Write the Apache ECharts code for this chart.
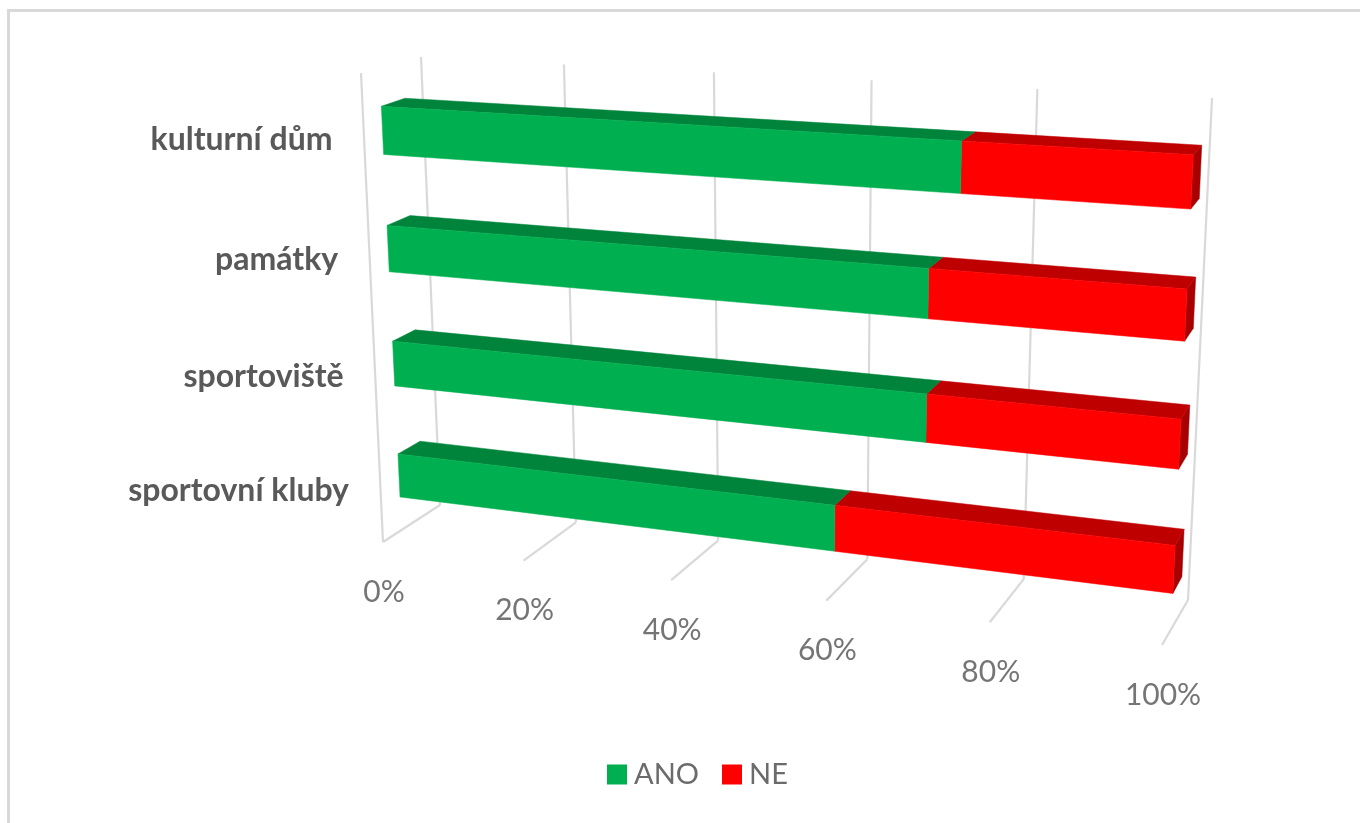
<!DOCTYPE html>
<html><head><meta charset="utf-8">
<style>html,body{margin:0;padding:0;background:#fff}#c{width:1360px;height:823px}</style>
<script src="https://cdn.jsdelivr.net/npm/echarts@6/dist/echarts.min.js"></script>
</head><body><div id="c"></div>
<script>
const categories = ['kulturní dům', 'památky', 'sportoviště', 'sportovní kluby'];
const ano = [74, 70.4, 70.4, 59.2];
const ne = [26, 29.6, 29.6, 40.8];
const tickValues = [0, 20, 40, 60, 80, 100];
const tickLabels = ['0%', '20%', '40%', '60%', '80%', '100%'];

// perspective layout: quads in order (u0,t0),(u1,t0),(u1,t1),(u0,t1)
const BAR_FRONT = [[382.5,130.5],[1192,182],[1174,569.5],[399,475.5]];
const BAR_BACK  = [[406,122],[1200.5,172],[1183,553],[421,462.5]];
const WALL_BACK = [[421,57],[1212,98],[1188,600],[440,505]];
const WALL_FRONT= [[361,73],[1186,115],[1162,645],[383,542]];

function homography(q){
  const [[x0,y0],[x1,y1],[x2,y2],[x3,y3]] = q;
  const dx1=x1-x2, dx2=x3-x2, sx=x0-x1+x2-x3;
  const dy1=y1-y2, dy2=y3-y2, sy=y0-y1+y2-y3;
  const den=dx1*dy2-dx2*dy1;
  const g=(sx*dy2-dx2*sy)/den, h=(dx1*sy-sx*dy1)/den;
  const a=x1-x0+g*x1, b=x3-x0+h*x3, c=x0;
  const d=y1-y0+g*y1, e=y3-y0+h*y3, f=y0;
  return (u,t)=>{const w=g*u+h*t+1;return [(a*u+b*t+c)/w,(d*u+e*t+f)/w];};
}
const front=homography(BAR_FRONT), back=homography(BAR_BACK), wall=homography(WALL_BACK), wallF=homography(WALL_FRONT);
const halfAt=t=>0.067-0.002*t;

function norm(params, api, v, i){
  const p=api.coord([v,i]), r=params.coordSys;
  return [(p[0]-r.x)/r.width,(p[1]-r.y)/r.height];
}
function poly(pts,fill){return {type:'polygon',shape:{points:pts},style:{fill:fill,stroke:fill,lineWidth:0.5},silent:true};}

function barRenderer(frontCol,topCol,sideCol){
  return function(params,api){
    const a=norm(params,api,api.value(0),api.value(2));
    const b=norm(params,api,api.value(1),api.value(2));
    const up=a[1]-halfAt(a[1]), dn=a[1]+halfAt(a[1]);
    const ch=[
      poly([front(a[0],up),front(b[0],up),back(b[0],up),back(a[0],up)],topCol),
      poly([front(a[0],up),front(b[0],up),front(b[0],dn),front(a[0],dn)],frontCol)
    ];
    if(b[0]>=0.999) ch.unshift(poly([front(b[0],up),back(b[0],up),back(b[0],dn),front(b[0],dn)],sideCol));
    return {type:'group',children:ch};
  };
}
function gridRenderer(params,api){
  const u=norm(params,api,api.value(0),0)[0];
  const L={stroke:'#d9d9d9',lineWidth:2.2,lineCap:'butt'};
  const ln=(a,b)=>({type:'line',shape:{x1:a[0],y1:a[1],x2:b[0],y2:b[1]},style:L,silent:true});
  const f=wallF(u,1);
  const ch=[ln(wall(u,0),wall(u,1)),ln(wall(u,1),f)];
  if(api.value(0)===0) ch.push(ln(wallF(u,0),f));
  ch.push({type:'text',silent:true,style:{text:tickLabels[params.dataIndex],x:f[0]+1,y:f[1]+50,align:'center',verticalAlign:'middle',
    font:'30px Lato, "Open Sans", sans-serif',fill:'#757575'}});
  return {type:'group',children:ch};
}
function catRenderer(params,api){
  const a=norm(params,api,0,api.value(0));
  const p=front(a[0],a[1]);
  return {type:'text',silent:true,style:{text:categories[params.dataIndex],x:p[0]-50,y:p[1]+9+6*a[1],align:'right',verticalAlign:'middle',
    font:'bold 32px Lato, "Open Sans", sans-serif',fill:'#595959'}};
}
const rows=categories.map((_,i)=>i);
const chart=echarts.init(document.getElementById('c'),null,{renderer:'canvas'});
chart.setOption({
  animation:false,
  backgroundColor:'#fff',
  grid:{left:0,top:0,width:1000,height:600,containLabel:false},
  xAxis:{type:'value',min:0,max:100,interval:20,show:false},
  yAxis:{type:'category',data:categories,inverse:true,boundaryGap:false,show:false},
  legend:{data:['ANO','NE'],left:607,top:760,padding:0,itemWidth:20,itemHeight:20,itemGap:23,icon:'rect',selectedMode:false,
    textStyle:{color:'#6b6b6b',fontSize:29,fontFamily:'Lato, "Open Sans", sans-serif',padding:[0,0,0,2]}},
  graphic:[
    {type:'rect',shape:{x:7,y:9,width:3,height:814},style:{fill:'#d9d9d9'},silent:true},
    {type:'rect',shape:{x:7,y:9,width:1353,height:3},style:{fill:'#d9d9d9'},silent:true}
  ],
  series:[
    {type:'custom',name:'mřížka',renderItem:gridRenderer,data:tickValues.map(v=>[v]),encode:{x:0},z:1,silent:true},
    {type:'custom',name:'popisky',renderItem:catRenderer,data:rows.map(i=>[i]),encode:{y:0},z:2,silent:true},
    {type:'custom',name:'NE',renderItem:barRenderer('#ff0000','#bf0000','#a80000'),itemStyle:{color:'#ff0000'},
      data:categories.map((_,i)=>[ano[i],ano[i]+ne[i],i]),encode:{x:[0,1],y:2},z:3,silent:true},
    {type:'custom',name:'ANO',renderItem:barRenderer('#00b050','#00843c','#00843c'),itemStyle:{color:'#00b050'},
      data:categories.map((_,i)=>[0,ano[i],i]),encode:{x:[0,1],y:2},z:4,silent:true}
  ]
});
</script></body></html>
